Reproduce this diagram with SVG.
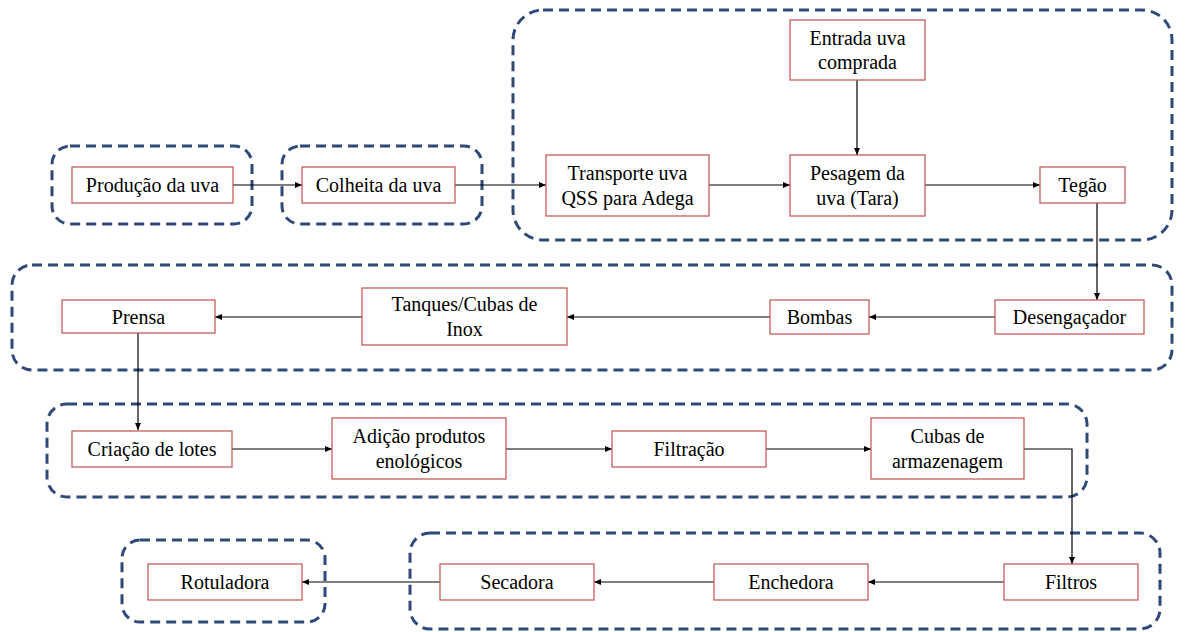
<svg xmlns="http://www.w3.org/2000/svg" width="1191" height="632" viewBox="0 0 1191 632">
<style>
.grp{fill:none;stroke:#2f4a78;stroke-width:3;stroke-dasharray:10 6}
.nd{fill:#fff;stroke:#c0504d;stroke-width:1.2}
.t{font-size:20px;fill:#000;text-anchor:middle}
.c{fill:none;stroke:#000;stroke-width:1.2}
</style>
<defs>
<marker id="ah" markerWidth="8" markerHeight="8" refX="7" refY="4" orient="auto" markerUnits="userSpaceOnUse">
<path d="M0,1 L7,4 L0,7 z" fill="#000"/>
</marker>
</defs>
<rect width="1191" height="632" fill="#fff"/>
<g id="groups">
<rect class="grp" x="52" y="146" width="200" height="78" rx="18"/>
<rect class="grp" x="282" y="146" width="200" height="78" rx="18"/>
<rect class="grp" x="513" y="10" width="659" height="230" rx="30"/>
<rect class="grp" x="12" y="265" width="1160" height="105" rx="20"/>
<rect class="grp" x="47" y="404" width="1040" height="93" rx="20"/>
<rect class="grp" x="410" y="533" width="750" height="96" rx="20"/>
<rect class="grp" x="122" y="540" width="203" height="82" rx="18"/>
</g>
<g id="connectors">
<line class="c" x1="233" y1="185" x2="302" y2="185" marker-end="url(#ah)"/>
<line class="c" x1="455" y1="185" x2="546" y2="185" marker-end="url(#ah)"/>
<line class="c" x1="709" y1="185" x2="790" y2="185" marker-end="url(#ah)"/>
<line class="c" x1="857" y1="80" x2="857" y2="155" marker-end="url(#ah)"/>
<line class="c" x1="925" y1="185" x2="1040" y2="185" marker-end="url(#ah)"/>
<line class="c" x1="1097" y1="203" x2="1097" y2="300" marker-end="url(#ah)"/>
<line class="c" x1="995" y1="317" x2="869" y2="317" marker-end="url(#ah)"/>
<line class="c" x1="770" y1="317" x2="567" y2="317" marker-end="url(#ah)"/>
<line class="c" x1="362" y1="317" x2="215" y2="317" marker-end="url(#ah)"/>
<line class="c" x1="138" y1="333" x2="138" y2="430" marker-end="url(#ah)"/>
<line class="c" x1="232" y1="449" x2="332" y2="449" marker-end="url(#ah)"/>
<line class="c" x1="506" y1="449" x2="612" y2="449" marker-end="url(#ah)"/>
<line class="c" x1="766" y1="449" x2="871" y2="449" marker-end="url(#ah)"/>
<polyline class="c" points="1024,449 1072,449 1072,564" marker-end="url(#ah)"/>
<line class="c" x1="1004" y1="582" x2="868" y2="582" marker-end="url(#ah)"/>
<line class="c" x1="714" y1="582" x2="594" y2="582" marker-end="url(#ah)"/>
<line class="c" x1="440" y1="582" x2="302" y2="582" marker-end="url(#ah)"/>
</g>
<g font-family="Liberation Serif, DejaVu Serif, Times New Roman, serif">
<g id="n-producao"><rect class="nd" x="72" y="167" width="161" height="36"/><text class="t" x="152.5" y="192">Produção da uva</text></g>
<g id="n-colheita"><rect class="nd" x="302" y="167" width="153" height="36"/><text class="t" x="378.5" y="192">Colheita da uva</text></g>
<g id="n-entrada"><rect class="nd" x="790" y="20" width="135" height="60"/><text class="t" x="857.5" y="45">Entrada uva</text><text class="t" x="857.5" y="69">comprada</text></g>
<g id="n-transporte"><rect class="nd" x="546" y="155" width="163" height="61"/><text class="t" x="627.5" y="180">Transporte uva</text><text class="t" x="627.5" y="205">QSS para Adega</text></g>
<g id="n-pesagem"><rect class="nd" x="790" y="155" width="135" height="61"/><text class="t" x="857.5" y="180">Pesagem da</text><text class="t" x="857.5" y="205">uva (Tara)</text></g>
<g id="n-tegao"><rect class="nd" x="1040" y="167" width="85" height="36"/><text class="t" x="1082.5" y="192">Tegão</text></g>
<g id="n-desengacador"><rect class="nd" x="995" y="300" width="149" height="34"/><text class="t" x="1069.5" y="324">Desengaçador</text></g>
<g id="n-bombas"><rect class="nd" x="770" y="300" width="99" height="34"/><text class="t" x="819.5" y="324">Bombas</text></g>
<g id="n-tanques"><rect class="nd" x="362" y="288" width="205" height="57"/><text class="t" x="464.5" y="311">Tanques/Cubas de</text><text class="t" x="464.5" y="336">Inox</text></g>
<g id="n-prensa"><rect class="nd" x="62" y="300" width="153" height="33"/><text class="t" x="138.5" y="323.5">Prensa</text></g>
<g id="n-criacao"><rect class="nd" x="72" y="431" width="160" height="36"/><text class="t" x="152" y="456">Criação de lotes</text></g>
<g id="n-adicao"><rect class="nd" x="332" y="418" width="174" height="61"/><text class="t" x="419" y="443">Adição produtos</text><text class="t" x="419" y="468">enológicos</text></g>
<g id="n-filtracao"><rect class="nd" x="612" y="431" width="154" height="36"/><text class="t" x="689" y="456">Filtração</text></g>
<g id="n-cubas"><rect class="nd" x="871" y="418" width="153" height="61"/><text class="t" x="947.5" y="443">Cubas de</text><text class="t" x="947.5" y="468">armazenagem</text></g>
<g id="n-filtros"><rect class="nd" x="1004" y="564" width="134" height="36"/><text class="t" x="1071" y="589">Filtros</text></g>
<g id="n-enchedora"><rect class="nd" x="714" y="564" width="154" height="36"/><text class="t" x="791" y="589">Enchedora</text></g>
<g id="n-secadora"><rect class="nd" x="440" y="564" width="154" height="36"/><text class="t" x="517" y="589">Secadora</text></g>
<g id="n-rotuladora"><rect class="nd" x="148" y="564" width="154" height="36"/><text class="t" x="225" y="589">Rotuladora</text></g>
</g>
</svg>
